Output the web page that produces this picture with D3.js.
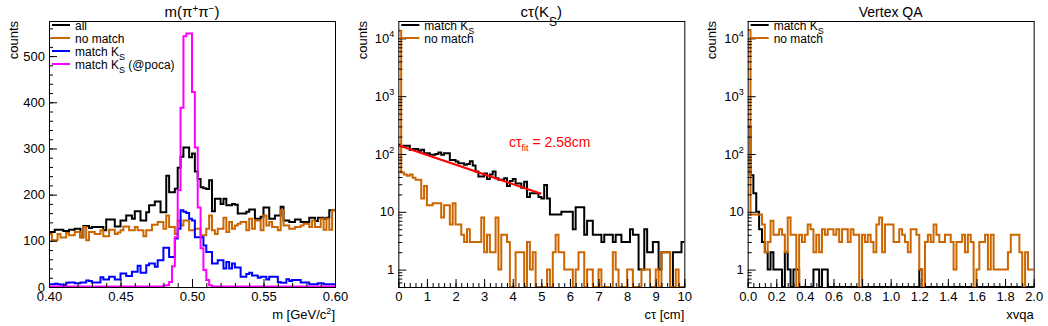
<!DOCTYPE html>
<html><head><meta charset="utf-8">
<script src="https://cdn.jsdelivr.net/npm/d3@7"></script>
<style>
body{margin:0;background:#fff}
svg{display:block}
text{font-family:"Liberation Sans",Arial,Helvetica,sans-serif}
</style>
</head><body>
<svg id="c" width="1048" height="326"></svg>
<script>
// ---------------- DATA ----------------
// Panel 1: m(pi+pi-), 100 bins in [0.40, 0.60]
const massRange = [0.40, 0.60];
const massTicks = [0.40, 0.45, 0.50, 0.55, 0.60];
const massYTicks = [0, 100, 200, 300, 400, 500];
const massAll = [
 119,119,124,124,124,121,121,124,124,126,
 126,108,132,132,128,130,130,130,130,123,
 146,146,146,131,131,144,144,155,155,148,
 164,164,144,144,162,177,177,185,185,162,
 162,241,205,205,213,258,282,302,302,281,
 289,250,234,216,214,212,231,164,191,191,
 180,191,177,177,180,178,159,159,159,163,
 168,168,148,148,152,172,172,148,148,155,
 155,174,144,144,141,141,146,146,141,141,
 141,150,150,143,150,150,148,150,166,166];
const massNoMatch = [
 115,101,101,115,107,107,117,112,112,119,
 119,107,130,101,119,119,115,115,123,110,
 110,124,124,115,118,123,131,131,123,123,
 130,123,123,110,123,123,135,135,141,141,
 126,155,130,130,115,144,133,144,144,123,
 123,126,126,112,112,126,155,123,115,126,
 126,150,119,141,126,133,137,141,141,123,
 148,126,144,144,123,155,133,141,130,130,
 123,166,133,133,126,126,130,130,133,137,
 137,130,144,130,130,148,124,148,124,166];
const massMatch = [
 6,6,7,6,5,4,9,10,10,8,
 8,10,10,14,13,10,10,10,21,16,
 16,22,22,16,16,29,29,24,24,33,
 33,46,31,31,47,51,51,44,58,58,
 85,85,65,65,105,126,166,163,160,148,
 144,108,108,108,90,76,76,51,51,58,
 58,40,54,40,51,42,42,22,22,28,
 31,25,25,20,22,22,16,22,22,22,
 11,9,9,17,13,15,15,15,10,10,
 10,6,6,6,8,8,6,6,6,6];
const massMatchPoca = [
 1,1,1,1,1,1,1,1,1,1,
 1,1,1,1,1,1,1,1,1,1,
 1,1,1,1,1,1,1,1,1,1,
 1,1,1,1,1,1,1,1,1,1,
 3,4,11,45,108,210,388,543,549,549,
 422,302,172,84,37,15,4,1,1,1,
 1,1,1,1,1,1,1,1,1,1,
 1,1,1,1,1,1,1,1,1,1,
 1,1,1,1,1,1,1,1,1,1,
 1,1,1,1,1,1,1,1,1,1];

// Panel 2: c*tau(K_S), 100 bins in [0, 10] cm
const ctauRange = [0, 10];
const ctauTicks = [0,1,2,3,4,5,6,7,8,9,10];
const ctauMatch = [
 144,134,139,139,118,122,122,114,118,103,
 103,97,97,100,106,97,103,103,79,79,
 74,69,69,65,67,75,63,50,41,41,
 46,37,44,50,38,36,36,38,28,34,
 37,31,31,26,33,18,21,21,21,18,
 17,29,17,9,9,9,9,10,10,10,
 10,5,12,12,12,4,7,7,4,4,
 4,3,4,4,4,3,4,4,3,3,
 3,5,4,4,1,1,5,2,2,3,
 3,1,2,2,2,0,2,2,2,3];
const ctauNoMatch = [
 13600,48,44,42,44,39,36,36,17,28,
 13,13,14,14,14,8,13,13,6,14,
 6,6,4,3,5,3,3,3,3,8,
 2,4,2,2,8,1,4,4,3,0,
 0,2,2,2,0,3,1,2,0,0,
 0,0,1,0,2,4,2,2,1,1,
 1,0,1,2,2,0,1,1,0,0,
 1,0,0,0,0,2,1,0,0,0,
 1,1,0,0,0,1,1,1,0,0,
 1,0,2,2,2,0,0,1,0,0];
// exponential fit (straight on log scale): [ctau, counts] end points
const ctauFit = [[0.0, 142], [5.0, 20.5]];
const ctauFitLabel = "2.58cm";

// Panel 3: Vertex QA, 100 bins in [0, 2]
const xvRange = [0, 2];
const xvTicks = [0,0.2,0.4,0.6,0.8,1.0,1.2,1.4,1.6,1.8,2.0];
const xvMatch = [
 300,43,21,10,5,3,2,1,2,1,
 1,1,0,2,1,0,1,1,0,0,
 0,0,0,1,1,0,1,1,0,0,
 0,0,0,0,0,0,0,0,0,0,
 0,0,0,0,0,0,0,0,0,0,
 0,0,0,0,0,0,0,0,0,0,
 1,0,0,0,0,0,0,0,0,0,
 0,0,0,0,0,0,0,0,0,0,
 0,0,0,0,0,0,0,0,0,0,
 0,0,0,0,0,0,0,0,0,0];
const xvNoMatch = [
 14000,9,9,9,9,6,2,3,7,4,
 4,5,4,2,8,4,4,0,4,3,
 4,6,5,2,4,2,5,4,5,5,
 4,5,3,5,5,3,5,4,4,0,
 4,3,4,3,2,6,8,2,6,6,
 6,3,3,5,4,3,2,5,5,4,
 1,0,3,4,3,6,4,3,3,4,
 4,3,1,3,3,4,2,4,3,0,
 1,3,3,4,1,4,1,1,1,1,
 1,2,4,4,4,2,0,2,1,1];
const logYDomain = [0.5, 2.0e4];
const logYTicks = [1, 10, 100, 1000, 10000];

// ---------------- DRAWING ----------------
const COL = {black:"#000000", orange:"#cc6600", blue:"#0000ff", magenta:"#ff00ff", red:"#ff0000"};
const FONT = '"Liberation Sans",Arial,Helvetica,sans-serif';
const svg = d3.select("#c");
svg.append("rect").attr("width",1048).attr("height",326).attr("fill","#fff");
const FT = 21, FB = 287;
const padW = 1048/3;

function histPath(x, y, range, vals, floor) {
  const n = vals.length, w = (range[1]-range[0])/n;
  const yv = v => y(Math.max(v, floor));
  let d = `M${x(range[0])},${yv(vals[0])}`;
  for (let i = 0; i < n; i++) {
    if (i > 0) d += `V${yv(vals[i])}`;
    d += `H${x(range[0] + (i+1)*w)}`;
  }
  return d;
}

function styleAxis(sel) {
  sel.select(".domain").remove();
  sel.attr("font-size", 13).attr("font-family", FONT);
  sel.selectAll("line").attr("stroke", "#000");
  sel.selectAll("text").attr("fill", "#000");
}

function makePanel(idx, xRange, yScaleType, yDomain) {
  const px = idx*padW;
  const L = px + 49, R = px + 335;
  const g = svg.append("g");
  const x = d3.scaleLinear().domain(xRange).range([L, R]);
  const y = (yScaleType === "log" ? d3.scaleLog() : d3.scaleLinear()).domain(yDomain).range([FB, FT]);
  const clipId = "clip" + idx;
  svg.append("clipPath").attr("id", clipId).append("rect")
    .attr("x", L).attr("y", FT).attr("width", R-L).attr("height", FB-FT);
  const plot = g.append("g").attr("clip-path", `url(#${clipId})`);
  return {g, plot, x, y, L, R, px};
}

function addHist(P, range, vals, color, floor) {
  P.plot.append("path").attr("d", histPath(P.x, P.y, range, vals, floor))
    .attr("fill", "none").attr("stroke", color).attr("stroke-width", 2)
    .attr("stroke-linejoin", "miter");
}

function xAxis(P, majors, minors, fmt) {
  P.g.append("g").attr("transform", `translate(0,${FB})`)
    .call(d3.axisBottom(P.x).tickValues(minors).tickSize(-4).tickFormat(""))
    .call(styleAxis);
  P.g.append("g").attr("transform", `translate(0,${FB})`)
    .call(d3.axisBottom(P.x).tickValues(majors).tickSize(-8).tickPadding(5).tickFormat(fmt))
    .call(styleAxis);
}

function yAxisLin(P, majors, minors) {
  P.g.append("g").attr("transform", `translate(${P.L},0)`)
    .call(d3.axisLeft(P.y).tickValues(minors).tickSize(-4).tickFormat(""))
    .call(styleAxis);
  P.g.append("g").attr("transform", `translate(${P.L},0)`)
    .call(d3.axisLeft(P.y).tickValues(majors).tickSize(-8).tickPadding(4).tickFormat(d3.format("d")))
    .call(styleAxis);
}

function yAxisLog(P, majors) {
  const [lo, hi] = P.y.domain();
  const minors = [];
  for (let e = -1; e <= 4; e++) for (let k = 2; k <= 9; k++) {
    const v = k*Math.pow(10, e);
    if (v >= lo && v <= hi && !majors.includes(v)) minors.push(v);
  }
  P.g.append("g").attr("transform", `translate(${P.L},0)`)
    .call(d3.axisLeft(P.y).tickValues(minors).tickSize(-4).tickFormat(""))
    .call(styleAxis);
  P.g.append("g").attr("transform", `translate(${P.L},0)`)
    .call(d3.axisLeft(P.y).tickValues(majors).tickSize(-8).tickFormat(""))
    .call(styleAxis);
  majors.forEach(v => {
    const e = Math.round(Math.log10(v));
    const t = P.g.append("text").attr("x", P.L - 4).attr("y", P.y(v) + 4.5)
      .attr("text-anchor", "end").attr("font-size", 13).attr("font-family", FONT);
    if (e === 0) t.text("1");
    else if (e === 1) t.text("10");
    else {
      t.append("tspan").text("10");
      t.append("tspan").attr("font-size", 9).attr("dy", -6).text(e);
    }
  });
}

function frameRect(P) {
  P.g.append("rect").attr("x", P.L + 0.5).attr("y", FT + 0.5)
    .attr("width", P.R - P.L).attr("height", FB - FT)
    .attr("fill", "none").attr("stroke", "#000").attr("stroke-width", 1);
}

function yTitle(P) {
  P.g.append("text").attr("transform", `translate(${P.px + 17.5},${FT}) rotate(-90)`)
    .attr("text-anchor", "end").attr("font-size", 13).text("counts");
}

function legend(P, entries) {
  entries.forEach((e, i) => {
    const yy = 25 + i*13;
    P.g.append("line").attr("x1", P.L + 3).attr("x2", P.L + 21).attr("y1", yy).attr("y2", yy)
      .attr("stroke", e.color).attr("stroke-width", 2);
    const t = P.g.append("text").attr("x", P.L + 26).attr("y", yy + 4.5).attr("font-size", 12);
    t.append("tspan").text(e.label);
    if (e.sub) {
      t.append("tspan").attr("font-size", 9).attr("dy", 4).text(e.sub);
      if (e.after) t.append("tspan").attr("dy", -4).text(e.after);
    }
  });
}

// ---- Panel 1 ----
{
  const P = makePanel(0, massRange, "lin", [0, 576]);
  addHist(P, massRange, massAll, COL.black, 0);
  addHist(P, massRange, massNoMatch, COL.orange, 0);
  addHist(P, massRange, massMatch, COL.blue, 0);
  addHist(P, massRange, massMatchPoca, COL.magenta, 0);
  xAxis(P, massTicks, d3.range(0.40, 0.6001, 0.01), d3.format(".2f"));
  yAxisLin(P, massYTicks, d3.range(0, 577, 20));
  frameRect(P);
  yTitle(P);
  const t = P.g.append("text").attr("x", P.R).attr("y", 319).attr("text-anchor", "end").attr("font-size", 13);
  t.append("tspan").text("m [GeV/c");
  t.append("tspan").attr("font-size", 9).attr("dy", -5).text("2");
  t.append("tspan").attr("dy", 5).text("]");
  const ti = P.g.append("text").attr("x", (P.L + P.R)/2).attr("y", 17).attr("text-anchor", "middle").attr("font-size", 15);
  ti.append("tspan").text("m(π");
  ti.append("tspan").attr("font-size", 10).attr("dy", -5).text("+");
  ti.append("tspan").attr("font-size", 15).attr("dy", 5).text("π");
  ti.append("tspan").attr("font-size", 10).attr("dy", -5).text("−");
  ti.append("tspan").attr("font-size", 15).attr("dy", 5).text(")");
  legend(P, [
    {label:"all", color:COL.black},
    {label:"no match", color:COL.orange},
    {label:"match K", sub:"S", color:COL.blue},
    {label:"match K", sub:"S", after:" (@poca)", color:COL.magenta}
  ]);
}

// ---- Panel 2 ----
{
  const P = makePanel(1, ctauRange, "log", logYDomain);
  const fl = logYDomain[0];
  addHist(P, ctauRange, ctauMatch, COL.black, fl);
  addHist(P, ctauRange, ctauNoMatch, COL.orange, fl);
  P.plot.append("path").datum(ctauFit)
    .attr("d", d3.line().x(d => P.x(d[0])).y(d => P.y(d[1])))
    .attr("fill", "none").attr("stroke", COL.red).attr("stroke-width", 2);
  xAxis(P, ctauTicks, d3.range(0, 10.001, 0.2), d3.format("d"));
  yAxisLog(P, logYTicks);
  frameRect(P);
  yTitle(P);
  P.g.append("text").attr("x", P.R).attr("y", 319).attr("text-anchor", "end").attr("font-size", 13).text("cτ [cm]");
  const ti = P.g.append("text").attr("x", (P.L + P.R)/2).attr("y", 17).attr("text-anchor", "middle").attr("font-size", 15);
  ti.append("tspan").text("cτ(K");
  ti.append("tspan").attr("font-size", 12).attr("dy", 9).text("S");
  ti.append("tspan").attr("font-size", 15).attr("dy", -9).text(")");
  const fl2 = P.g.append("text").attr("x", 509).attr("y", 147).attr("font-size", 14).attr("fill", COL.red);
  fl2.append("tspan").text("cτ");
  fl2.append("tspan").attr("font-size", 9).attr("dy", 4).text("fit");
  fl2.append("tspan").attr("dy", -4).text(" = " + ctauFitLabel);
  legend(P, [
    {label:"match K", sub:"S", color:COL.black},
    {label:"no match", color:COL.orange}
  ]);
}

// ---- Panel 3 ----
{
  const P = makePanel(2, xvRange, "log", logYDomain);
  const fl = logYDomain[0];
  addHist(P, xvRange, xvMatch, COL.black, fl);
  addHist(P, xvRange, xvNoMatch, COL.orange, fl);
  xAxis(P, xvTicks, d3.range(0, 2.0001, 0.04), d3.format(".1f"));
  yAxisLog(P, logYTicks);
  frameRect(P);
  yTitle(P);
  P.g.append("text").attr("x", P.R).attr("y", 319).attr("text-anchor", "end").attr("font-size", 13).text("xvqa");
  P.g.append("text").attr("x", (P.L + P.R)/2).attr("y", 17).attr("text-anchor", "middle").attr("font-size", 14).text("Vertex QA");
  legend(P, [
    {label:"match K", sub:"S", color:COL.black},
    {label:"no match", color:COL.orange}
  ]);
}
</script>
</body></html>
